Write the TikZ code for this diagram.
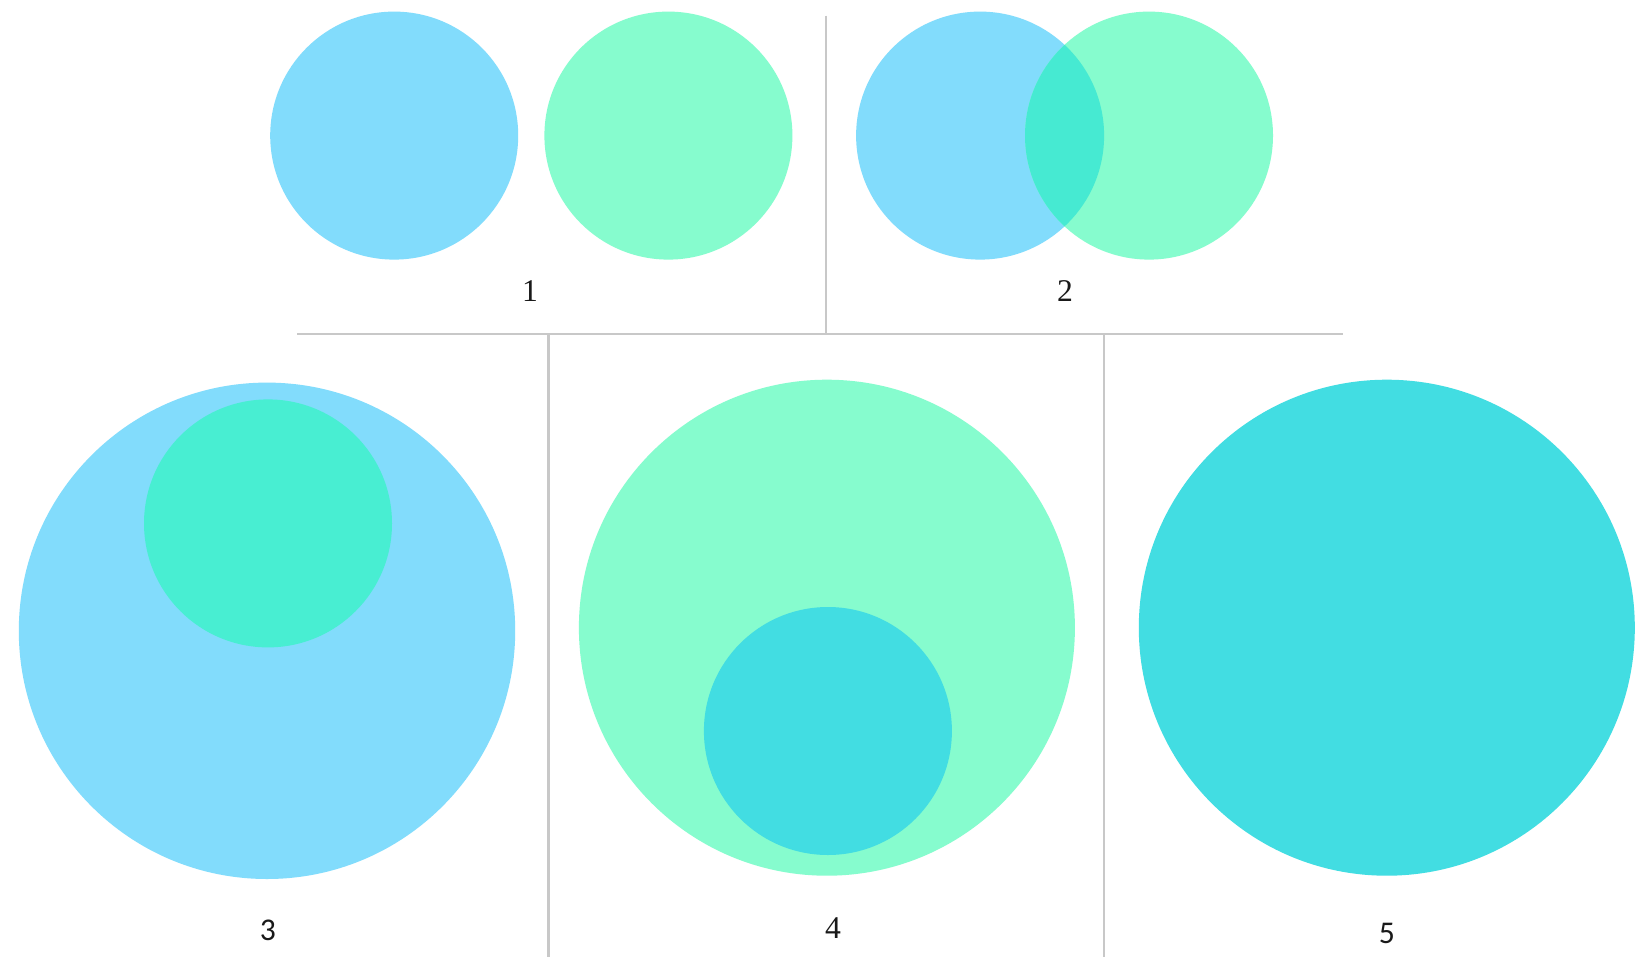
\documentclass[tikz,border=0pt]{standalone}
\usepackage{fontspec}
\setmainfont{Liberation Serif}
\newfontfamily\lblsans{Carlito}
\definecolor{cblue}{RGB}{130,220,252}
\definecolor{cgreen}{RGB}{134,252,206}
\definecolor{covl}{RGB}{70,234,210}
\definecolor{cinner}{RGB}{72,238,210}
\definecolor{ccyan}{RGB}{66,221,226}
\definecolor{cline}{RGB}{200,200,200}
\tikzset{
  sepline/.style={draw=cline, line width=1.8pt},
  lbl/.style={font=\fontsize{27}{32}\selectfont, text=black!90, inner sep=0pt},
  lbls/.style={lbl, font=\lblsans\fontsize{27}{32}\selectfont},
}
\begin{document}
\begin{tikzpicture}[x=0.03cm, y=-0.03cm]
\useasboundingbox[fill=white] (0,0) rectangle (1635,964);
% separators
\coordinate (v1t) at (825.8,15.6);
\coordinate (v1b) at (825.8,333.7);
\coordinate (hl) at (297.2,333.7);
\coordinate (hr) at (1343,333.7);
\coordinate (v2t) at (548.5,333.7);
\coordinate (v2b) at (548.5,957);
\coordinate (v3t) at (1104.2,333.7);
\coordinate (v3b) at (1104.2,957);
\draw[sepline] (v1t) -- (v1b);
\draw[sepline] (hl) -- (hr);
\draw[sepline] (v2t) -- (v2b);
\draw[sepline] (v3t) -- (v3b);
% panel 1
\fill[cblue] (394.2,135.6) circle (124);
\fill[cgreen] (668.4,135.6) circle (124);
\node[lbl] (l1) at (530,291) {1};
% panel 2
\fill[cblue] (980.1,135.6) circle (124);
\fill[cgreen] (1149,135.6) circle (124);
\begin{scope}
  \clip (980.1,135.6) circle (124);
  \fill[covl] (1149,135.6) circle (124);
\end{scope}
\node[lbl] (l2) at (1065,291) {2};
% panel 3
\fill[cblue] (267,630.8) circle (248.2);
\fill[cinner] (268,523.4) circle (124);
\node[lbls] (l3) at (268,930) {3};
% panel 4
\fill[cgreen] (826.9,627.7) circle (248);
\fill[ccyan] (827.9,731) circle (124);
\node[lbl] (l4) at (833,928) {4};
% panel 5
\fill[ccyan] (1386.8,627.7) circle (248);
\node[lbls] (l5) at (1386.8,933) {5};
\end{tikzpicture}
\end{document}
